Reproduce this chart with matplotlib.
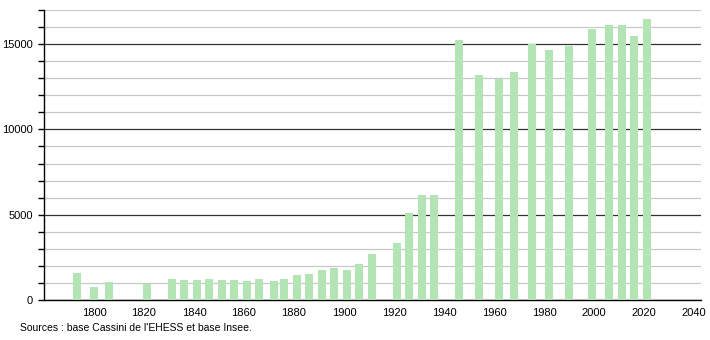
import matplotlib
matplotlib.use("Agg")
import matplotlib.pyplot as plt
from matplotlib.ticker import MultipleLocator

# census years and population
years = [1793, 1800, 1806, 1821, 1831, 1836, 1841, 1846, 1851, 1856,
         1861, 1866, 1872, 1876, 1881, 1886, 1891, 1896, 1901, 1906,
         1911, 1921, 1926, 1931, 1936, 1946, 1954, 1962, 1968, 1975,
         1982, 1990, 1999, 2006, 2011, 2016, 2021]
population = [1610, 780, 1075, 920, 1255, 1180, 1200, 1215, 1200, 1180,
              1130, 1215, 1120, 1215, 1470, 1550, 1765, 1900, 1765, 2135,
              2705, 3350, 5075, 6135, 6135, 15235, 13175, 12980, 13370, 15000,
              14650, 14900, 15880, 16120, 16120, 15490, 16470]

x_ticks = list(range(1800, 2041, 20))
source_text = "Sources : base Cassini de l'EHESS et base Insee."

plt.rcParams['font.family'] = ['Liberation Sans', 'DejaVu Sans']

fig = plt.figure(figsize=(7.1, 3.4), dpi=100)
ax = fig.add_axes([44 / 710, 40 / 340, 657 / 710, 290 / 340])

ax.bar(years, population, width=3.2, color='#b3e4b3', zorder=3)

ax.set_xlim(1780, 2042.8)
ax.set_ylim(0, 17000)
ax.set_xticks(x_ticks)
ax.yaxis.set_major_locator(MultipleLocator(5000))
ax.yaxis.set_minor_locator(MultipleLocator(1000))

ax.grid(axis='y', which='minor', color='#c8c8c8', linewidth=0.9, zorder=1)
ax.grid(axis='y', which='major', color='#333333', linewidth=0.9, zorder=2)
ax.grid(axis='x', visible=False)

for side in ('top', 'right'):
    ax.spines[side].set_visible(False)
ax.spines['left'].set_linewidth(1.0)
ax.spines['bottom'].set_linewidth(1.0)

ax.tick_params(axis='x', length=0, pad=6, labelsize=8)
ax.tick_params(axis='y', which='major', length=4, width=1, labelsize=8, pad=4)
ax.tick_params(axis='y', which='minor', length=4, width=1)

fig.text(20 / 710, 1 - 328 / 340, source_text, fontsize=7.5, va='center', ha='left')

fig.savefig("out.png", dpi=100)
